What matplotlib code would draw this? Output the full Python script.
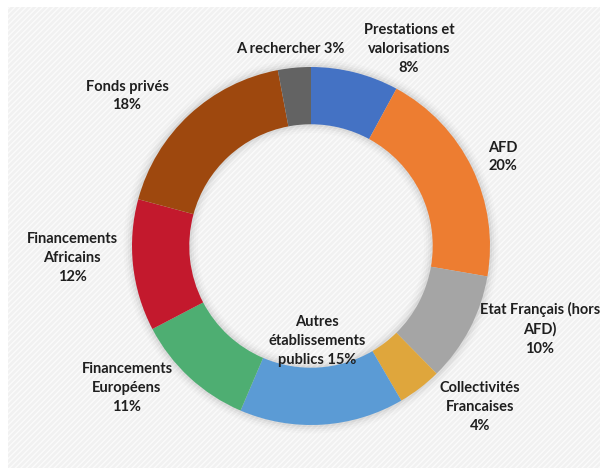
import matplotlib.pyplot as plt
from matplotlib.patches import Rectangle

# données (sens horaire depuis midi)
categories = ['Prestations et\nvalorisations', 'AFD', 'Etat Français (hors\nAFD)',
              'Collectivités\nFrancaises', 'Autres\nétablissements\npublics',
              'Financements\nEuropéens', 'Financements\nAfricains', 'Fonds privés',
              'A rechercher']
values = [8, 20, 10, 4, 15, 11, 12, 18, 3]
colors = ['#4472C4', '#ED7D31', '#A5A5A5', '#DFA63C', '#5B9BD5',
          '#4EAE72', '#C3192D', '#9E480E', '#636363']
label_texts = ['Prestations et\nvalorisations\n8%', 'AFD\n20%', 'Etat Français (hors\nAFD)\n10%',
               'Collectivités\nFrancaises\n4%', 'Autres\nétablissements\npublics 15%',
               'Financements\nEuropéens\n11%', 'Financements\nAfricains\n12%',
               'Fonds privés\n18%', 'A rechercher 3%']
# position des étiquettes (pixels dans l'image d'origine)
label_px = [(409, 49), (503, 157), (540, 329), (480, 407), (317, 341),
            (127, 388), (72, 258), (127, 96), (290, 49)]

W, H = 600, 468
fig = plt.figure(figsize=(W / 100, H / 100), dpi=100)
fig.patch.set_facecolor('white')

# fond gris rayé
bg = Rectangle((8 / W, 0), 1 - 8 / W, 1 - 7 / H, transform=fig.transFigure,
               facecolor='#f1f1f1', edgecolor='#fbfbfb', hatch='//////', linewidth=0, zorder=-10)
fig.patches.append(bg)

cx, cy, R = 311, 246, 179
ax = fig.add_axes([(cx - R) / W, (H - cy - R) / H, 2 * R / W, 2 * R / H])
ax.axis('off')
ax.patch.set_alpha(0)

# ombre légère
for i, a in enumerate([0.04, 0.03, 0.02, 0.015]):
    ax.pie([1], radius=1 + 0.012 * (i + 1), colors=['black'],
           wedgeprops=dict(width=0.32 + 0.024 * (i + 1), linewidth=0, alpha=a))

ax.pie(values, colors=colors, startangle=90, counterclock=False, radius=1,
       wedgeprops=dict(width=0.32, linewidth=0))
ax.set_xlim(-1, 1)
ax.set_ylim(-1, 1)

for txt, (px, py) in zip(label_texts, label_px):
    ax.text((px - cx) / R, (cy - py) / R, txt, ha='center', va='center',
            fontsize=10.5, fontweight='bold', family='Lato', color='#1f1f1f',
            linespacing=1.45)

fig.savefig('out.png', dpi=100)
